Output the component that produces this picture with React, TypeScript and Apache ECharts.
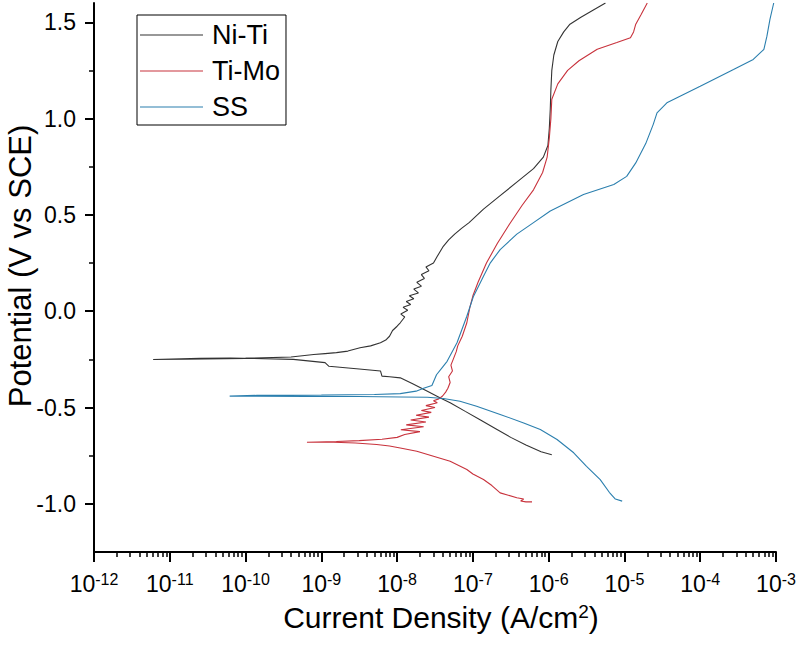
import React, { useEffect, useRef } from 'react';
import * as echarts from 'echarts';

const FONT = "'Liberation Sans', Arial, sans-serif";

const seriesNames = ['Ni-Ti', 'Ti-Mo', 'SS'];
const seriesColors = ['#333333', '#c8323c', '#2b7fae'];

// Potentiodynamic scans: [current density (A/cm²), potential (V vs SCE)],
// ordered from the cathodic end through the corrosion potential to the anodic end.
const niTi: [number, number][] = [
  [1.10e-6, -0.745], [7.94e-7, -0.73], [5.01e-7, -0.695], [3.16e-7, -0.655],
  [2.00e-7, -0.61], [1.26e-7, -0.565], [7.94e-8, -0.52], [5.01e-8, -0.475],
  [3.72e-8, -0.45], [2.51e-8, -0.415], [1.58e-8, -0.375], [1.10e-8, -0.346],
  [7.94e-9, -0.34], [6.31e-9, -0.337], [6.03e-9, -0.31], [3.16e-9, -0.30],
  [1.26e-9, -0.286], [1.12e-9, -0.267], [4.27e-10, -0.25], [6.31e-11, -0.243],
  [2.51e-11, -0.245], [6.03e-12, -0.251],
  [1.58e-11, -0.249], [1.00e-10, -0.245], [3.98e-10, -0.238], [7.94e-10, -0.225],
  [1.12e-9, -0.22], [1.58e-9, -0.215], [2.24e-9, -0.207], [3.24e-9, -0.19],
  [4.47e-9, -0.18], [6.03e-9, -0.164], [7.08e-9, -0.15], [7.94e-9, -0.13],
  [8.71e-9, -0.10], [1.00e-8, -0.078], [1.10e-8, -0.06], [1.26e-8, -0.03],
  [1.12e-8, -0.015], [1.38e-8, 0.005], [1.20e-8, 0.02], [1.51e-8, 0.035],
  [1.32e-8, 0.05], [1.66e-8, 0.065], [1.45e-8, 0.08], [1.91e-8, 0.095],
  [1.66e-8, 0.115], [2.09e-8, 0.13], [1.82e-8, 0.15], [2.29e-8, 0.17],
  [2.09e-8, 0.19], [2.63e-8, 0.21], [2.40e-8, 0.23], [3.02e-8, 0.25],
  [3.39e-8, 0.285], [4.07e-8, 0.337], [4.79e-8, 0.37], [5.75e-8, 0.40],
  [7.08e-8, 0.43], [8.91e-8, 0.46], [1.38e-7, 0.53], [2.29e-7, 0.60],
  [3.80e-7, 0.67], [6.31e-7, 0.74], [8.51e-7, 0.80], [9.77e-7, 0.86],
  [1.02e-6, 0.95], [1.05e-6, 1.05], [1.07e-6, 1.15], [1.10e-6, 1.25],
  [1.17e-6, 1.33], [1.32e-6, 1.40], [1.58e-6, 1.45], [1.91e-6, 1.49],
  [2.63e-6, 1.525], [3.55e-6, 1.555], [5.62e-6, 1.60],
];

const tiMo: [number, number][] = [
  [6.03e-7, -0.99], [5.01e-7, -0.99], [4.27e-7, -0.985], [4.68e-7, -0.975],
  [3.80e-7, -0.968], [2.29e-7, -0.943], [1.78e-7, -0.905], [1.38e-7, -0.874],
  [1.00e-7, -0.845], [8.32e-8, -0.822], [5.01e-8, -0.779], [3.02e-8, -0.753],
  [1.82e-8, -0.727], [1.10e-8, -0.71], [7.94e-9, -0.70], [5.37e-9, -0.692],
  [2.82e-9, -0.684], [1.45e-9, -0.68], [6.46e-10, -0.68],
  [1.58e-9, -0.676], [3.16e-9, -0.672], [6.31e-9, -0.665], [1.00e-8, -0.655],
  [1.26e-8, -0.64], [2.00e-8, -0.625], [1.12e-8, -0.615], [2.24e-8, -0.60],
  [1.32e-8, -0.59], [2.40e-8, -0.575], [1.51e-8, -0.565], [2.63e-8, -0.55],
  [1.78e-8, -0.54], [2.82e-8, -0.525], [2.09e-8, -0.515], [3.16e-8, -0.50],
  [2.40e-8, -0.49], [3.39e-8, -0.475], [3.02e-8, -0.465], [3.55e-8, -0.455],
  [3.98e-8, -0.44], [4.37e-8, -0.42], [4.68e-8, -0.40], [5.01e-8, -0.37],
  [4.79e-8, -0.34], [5.37e-8, -0.31], [5.13e-8, -0.28], [5.50e-8, -0.25],
  [6.03e-8, -0.21], [6.31e-8, -0.18], [7.24e-8, -0.13], [8.32e-8, -0.06],
  [9.12e-8, 0.02], [1.00e-7, 0.08], [1.17e-7, 0.15], [1.51e-7, 0.25],
  [2.09e-7, 0.35], [3.02e-7, 0.45], [4.47e-7, 0.55], [6.31e-7, 0.63],
  [8.32e-7, 0.72], [9.55e-7, 0.80], [1.02e-6, 0.90], [1.07e-6, 1.00],
  [1.10e-6, 1.10], [1.32e-6, 1.18], [1.78e-6, 1.25], [2.51e-6, 1.30],
  [4.37e-6, 1.36], [7.94e-6, 1.395], [1.20e-5, 1.42], [1.32e-5, 1.45],
  [1.41e-5, 1.49], [1.66e-5, 1.54], [2.00e-5, 1.60],
];

const ss: [number, number][] = [
  [9.33e-6, -0.986], [7.59e-6, -0.975], [6.31e-6, -0.94], [4.79e-6, -0.874],
  [3.16e-6, -0.805], [2.14e-6, -0.735], [1.29e-6, -0.666], [7.76e-7, -0.614],
  [4.68e-7, -0.58], [2.29e-7, -0.536], [1.12e-7, -0.493], [6.76e-8, -0.467],
  [4.07e-8, -0.453], [2.51e-8, -0.447], [1.10e-8, -0.445], [3.16e-9, -0.443],
  [6.31e-10, -0.442], [1.41e-10, -0.441], [6.17e-11, -0.441],
  [1.41e-10, -0.437], [1.00e-9, -0.435], [5.01e-9, -0.432], [1.10e-8, -0.428],
  [1.78e-8, -0.415], [2.24e-8, -0.40], [2.88e-8, -0.386], [3.31e-8, -0.33],
  [3.98e-8, -0.29], [4.57e-8, -0.26], [6.17e-8, -0.164], [8.32e-8, -0.026],
  [1.02e-7, 0.078], [1.38e-7, 0.182], [1.70e-7, 0.251], [2.29e-7, 0.32],
  [3.80e-7, 0.40], [6.31e-7, 0.46], [1.05e-6, 0.52], [2.88e-6, 0.606],
  [7.24e-6, 0.658], [1.07e-5, 0.70], [1.41e-5, 0.77], [1.91e-5, 0.87],
  [2.40e-5, 0.97], [2.69e-5, 1.03], [3.63e-5, 1.082], [1.00e-4, 1.168],
  [2.75e-4, 1.255], [5.01e-4, 1.307], [6.92e-4, 1.359], [7.59e-4, 1.428],
  [8.32e-4, 1.515], [9.33e-4, 1.60],
];

const seriesData = [niTi, tiMo, ss];

// Axis ranges and tick positions
const xMin = 1e-12;
const xMax = 1e-3;
const yMin = -1.25;
const yMax = 1.6;
const yMajorTicks = [-1.0, -0.5, 0.0, 0.5, 1.0, 1.5];
const yMinorTicks = [-0.75, -0.25, 0.25, 0.75, 1.25];
const decadeExponents = [-12, -11, -10, -9, -8, -7, -6, -5, -4];
const minorMultipliers = [2, 3, 4, 5, 6, 7, 8, 9];

// Minor ticks of the log axis, placed on an overlaid axis that runs in log10 units
const xMinorTickExponents: number[] = [];
decadeExponents.forEach((d) => {
  minorMultipliers.forEach((m) => xMinorTickExponents.push(d + Math.log10(m)));
});

export default function App() {
  const ref = useRef<HTMLDivElement>(null);

  useEffect(() => {
    if (!ref.current) return;
    const chart = echarts.init(ref.current, undefined, { renderer: 'svg' });

    const axisLineStyle = { color: '#000', width: 2 };

    chart.setOption({
      animation: false,
      backgroundColor: '#fff',
      grid: { left: 94, right: 24, top: 3, bottom: 93, containLabel: false },
      legend: {
        data: seriesNames,
        orient: 'vertical',
        left: 137,
        top: 15,
        icon: 'rect',
        itemWidth: 63,
        itemHeight: 1.2,
        itemGap: 6,
        padding: [5, 6, 3, 3],
        borderColor: '#000',
        borderWidth: 1,
        textStyle: {
          fontFamily: FONT,
          fontSize: 27,
          color: '#000',
          lineHeight: 30,
          padding: [0, 0, 0, 4],
        },
      },
      xAxis: [
        {
          type: 'log',
          logBase: 10,
          min: xMin,
          max: xMax,
          splitNumber: 9,
          axisLine: { show: true, onZero: false, lineStyle: axisLineStyle },
          axisTick: { show: true, length: 10, lineStyle: { color: '#000', width: 2 } },
          splitLine: { show: false },
          axisLabel: {
            margin: 19,
            color: '#000',
            fontFamily: FONT,
            fontSize: 23,
            formatter: (v: number) => `10{sup|${Math.round(Math.log10(v))}}`,
            rich: {
              sup: { fontSize: 16, fontFamily: FONT, color: '#000', verticalAlign: 'top', padding: [0, 0, 10, 0] },
            },
          },
        },
        {
          type: 'value',
          min: -12,
          max: -3,
          position: 'bottom',
          axisLine: { show: false, onZero: false },
          axisLabel: { show: false },
          splitLine: { show: false },
          axisTick: {
            show: true,
            customValues: xMinorTickExponents,
            length: 5,
            lineStyle: { color: '#000', width: 1.5 },
          },
        },
      ],
      yAxis: [
        {
          type: 'value',
          min: yMin,
          max: yMax,
          position: 'left',
          axisLine: { show: true, onZero: false, lineStyle: axisLineStyle },
          axisTick: { show: true, customValues: yMajorTicks, length: 9, lineStyle: { color: '#000', width: 2 } },
          splitLine: { show: false },
          axisLabel: {
            customValues: yMajorTicks,
            margin: 18,
            color: '#000',
            fontFamily: FONT,
            fontSize: 23,
            formatter: (v: number) => v.toFixed(1),
          },
        },
        {
          type: 'value',
          min: yMin,
          max: yMax,
          position: 'left',
          axisLine: { show: false, onZero: false },
          axisLabel: { show: false },
          splitLine: { show: false },
          axisTick: { show: true, customValues: yMinorTicks, length: 5, lineStyle: { color: '#000', width: 1.5 } },
        },
      ],
      graphic: [
        {
          type: 'text',
          x: 20,
          y: 266,
          rotation: Math.PI / 2,
          style: {
            text: 'Potential (V vs SCE)',
            fontFamily: FONT,
            fontSize: 31,
            fill: '#000',
            align: 'center',
            verticalAlign: 'middle',
          },
        },
        {
          type: 'text',
          x: 441,
          y: 617,
          style: {
            text: 'Current Density (A/cm{sup|2})',
            fontFamily: FONT,
            fontSize: 30,
            fill: '#000',
            align: 'center',
            verticalAlign: 'middle',
            rich: {
              sup: { fontSize: 19, fontFamily: FONT, fill: '#000', verticalAlign: 'top', padding: [0, 0, 10, 0] },
            },
          },
        },
      ],
      series: seriesNames.map((name, i) => ({
        name,
        type: 'line',
        xAxisIndex: 0,
        yAxisIndex: 0,
        data: seriesData[i],
        symbol: 'none',
        showSymbol: false,
        smooth: false,
        color: seriesColors[i],
        lineStyle: { color: seriesColors[i], width: 1.1 },
      })),
    });

    return () => chart.dispose();
  }, []);

  return (
    <div
      ref={ref}
      style={{ position: 'absolute', left: 0, top: 0, width: 800, height: 645, background: '#fff' }}
    />
  );
}
